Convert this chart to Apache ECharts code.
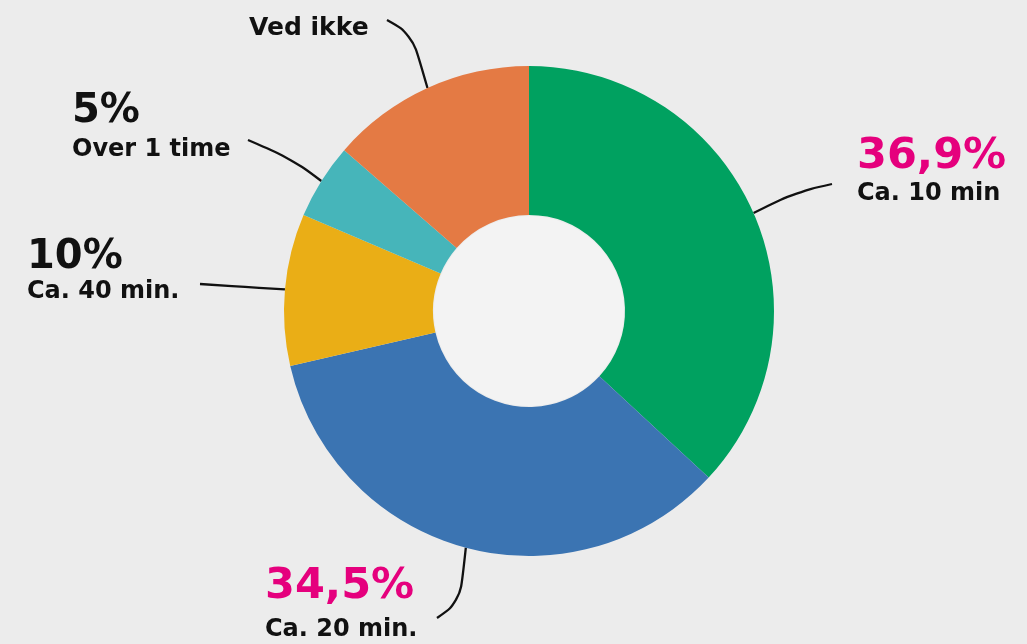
<!DOCTYPE html>
<html>
<head>
<meta charset="utf-8">
<script src="https://cdn.jsdelivr.net/npm/echarts@6/dist/echarts.min.js"></script>
<style>
html,body{margin:0;padding:0;background:#ececec;}
#c{width:1027px;height:644px;}
</style>
</head>
<body>
<div id="c"></div>
<script>
// ---- data ----
const categories = ['Ca. 10 min', 'Ca. 20 min.', 'Ca. 40 min.', 'Over 1 time', 'Ved ikke'];
const values = [36.9, 34.5, 10, 5, 13.6];
const percentLabels = ['36,9%', '34,5%', '10%', '5%', ''];

// ---- styling ----
const colors = ['#00a160', '#3b74b2', '#eaae16', '#46b5ba', '#e47a44'];
const pctColor = ['#e5007d', '#e5007d', '#111111', '#111111', null];
const pctSize = [43, 43, 40, 40, 0];
const pctLineHeight = [46, 58, 40, 48, 0];
const nameSize = [24, 24, 24, 24, 25];
// label placement: left/top of label block, and label-line mid/end points
const labelBoxes = [
  {x: 857, y: 134, end: [832, 184], mid: [796, 192]},
  {x: 265, y: 558, end: [437, 618], mid: [460, 602]},
  {x: 27,  y: 238, end: [200, 284], mid: [245, 287]},
  {x: 72,  y: 88,  end: [248, 140], mid: [292, 159]},
  {x: 249, y: 14,  end: [387, 20],  mid: [412, 34]}
];

const chart = echarts.init(document.getElementById('c'));

const data = categories.map((name, i) => {
  const rich = {
    pct: {fontFamily: 'DejaVu Sans', fontWeight: 'bold', fontSize: pctSize[i] || 12,
          color: pctColor[i] || '#111111', lineHeight: pctLineHeight[i] || 12},
    name: {fontFamily: 'DejaVu Sans', fontWeight: 'bold', fontSize: nameSize[i],
           color: '#111111', lineHeight: 28}
  };
  const fmt = percentLabels[i]
    ? '{pct|' + percentLabels[i] + '}\n{name|' + name + '}'
    : '{name|' + name + '}';
  return {
    name: name,
    value: values[i],
    itemStyle: {color: colors[i]},
    label: {formatter: fmt, rich: rich}
  };
});

chart.setOption({
  backgroundColor: '#ececec',
  animation: false,
  series: [
    {
      type: 'pie',
      center: [529, 311],
      radius: [96, 245],
      startAngle: 90,
      clockwise: true,
      silent: true,
      data: data,
      label: {
        show: true,
        position: 'outside',
        align: 'left'
      },
      labelLine: {
        show: true,
        smooth: 0.4,
        lineStyle: {color: '#111111', width: 2.3}
      },
      labelLayout: function (params) {
        const b = labelBoxes[params.dataIndex];
        const pts = params.labelLinePoints;
        const start = pts ? pts[0] : null;
        return {
          x: b.x,
          y: b.y,
          align: 'left',
          verticalAlign: 'top',
          labelLinePoints: start ? [start, b.mid, b.end] : undefined
        };
      }
    },
    {
      type: 'pie',
      center: [529, 311],
      radius: [0, 95],
      silent: true,
      label: {show: false},
      labelLine: {show: false},
      data: [{value: 1, itemStyle: {color: '#f3f3f3'}}]
    }
  ]
});
</script>
</body>
</html>
